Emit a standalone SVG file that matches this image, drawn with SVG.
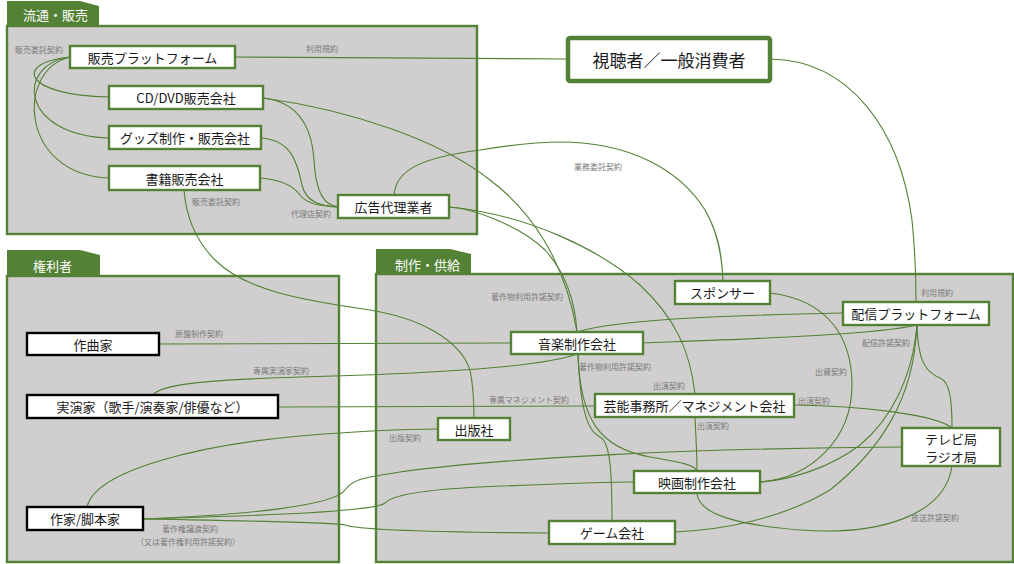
<svg xmlns="http://www.w3.org/2000/svg" width="1014" height="564" viewBox="0 0 1014 564">
<style>
.grp{fill:#d0cece;stroke:#538135;stroke-width:2.4}
.tab{fill:#538135}
.tabt{font-family:"Noto Sans CJK JP","Noto Sans",sans-serif;font-size:13px;fill:#ffffff}
.n rect{fill:#ffffff;stroke:#538135;stroke-width:2.4}
.k rect{fill:#ffffff;stroke:#000000;stroke-width:2.4}
.n text,.k text{font-family:"Noto Sans CJK JP","Noto Sans",sans-serif;font-size:13px;fill:#1a1a1a;text-anchor:middle;dominant-baseline:central}
#connectors path{fill:none;stroke:#538135;stroke-width:1.1}
.lbl{font-family:"Noto Sans CJK JP","Noto Sans",sans-serif;font-size:8px;fill:#7a7a7a;text-anchor:middle;dominant-baseline:central}
</style>
<rect x="0" y="0" width="1014" height="564" fill="#ffffff"/>
<g id="group-ryutsu">
<path class="tab" d="M7,1 H80 L99,6 V27 H7 Z"/>
<text class="tabt" x="23" y="20">流通・販売</text>
<rect class="grp" x="7" y="26" width="470" height="208"/>
</g>
<g id="group-kenrisha">
<path class="tab" d="M7,250 H80 L100,255 V277 H7 Z"/>
<text class="tabt" x="33" y="271">権利者</text>
<rect class="grp" x="7" y="276" width="332" height="286"/>
</g>
<g id="group-seisaku">
<path class="tab" d="M376,249 H450 L471,254 V275 H376 Z"/>
<text class="tabt" x="395" y="270">制作・供給</text>
<rect class="grp" x="376" y="274" width="637" height="288"/>
</g>
<g id="connectors">
<path d="M235,57 C350,57 450,59 568,59"/>
<path d="M70,57 C15,62 20,95 109,97"/>
<path d="M70,57 C15,65 20,135 109,138"/>
<path d="M70,57 C15,70 20,175 109,178"/>
<path d="M263,98 C300,102 312,130 314,160 C316,195 325,205 338,207"/>
<path d="M261,138 C290,140 297,160 302,185 C306,202 320,206 338,207"/>
<path d="M260,178 C285,180 295,188 300,195 C307,204 320,206 338,207"/>
<path d="M184,190 C186,215 195,240 215,260 C245,290 300,300 370,310 C420,318 460,340 470,370 C474,390 474,405 474,418"/>
<path d="M449,207 C470,208 520,225 545,250 C565,272 575,300 577,332"/>
<path d="M263,98 C350,110 440,140 490,180 C530,210 565,260 577,332"/>
<path d="M449,207 C530,215 600,250 640,285 C675,318 690,350 695,394"/>
<path d="M394,195 C396,170 420,158 480,150 C510,145 535,142 560,142 C630,142 680,170 705,210 C718,232 722,255 723,281"/>
<path d="M770,59 C850,60 900,130 912,220 C916,260 916,285 916,302"/>
<path d="M843,313 C750,315 620,318 577,332"/>
<path d="M916,325 C880,335 720,340 643,343"/>
<path d="M917,325 C912,380 890,420 860,445 C830,468 790,480 760,482"/>
<path d="M917,325 C914,400 880,450 830,490 C780,520 720,530 675,532"/>
<path d="M917,325 C918,360 925,372 940,378 C950,382 952,400 952,428"/>
<path d="M770,293 C830,300 852,340 852,385 C852,440 810,478 760,482"/>
<path d="M794,405 C860,406 935,414 952,428"/>
<path d="M695,417 C696,440 697,455 697,471"/>
<path d="M578,354 C580,420 600,448 650,457 C680,462 695,465 697,471"/>
<path d="M578,354 C580,400 585,430 600,437 C610,442 612,470 612,521"/>
<path d="M153,395 C160,385 200,380 300,377 C420,374 540,368 577,354"/>
<path d="M159,344 L511,343"/>
<path d="M278,407 L595,406"/>
<path d="M87,507 C95,470 200,445 300,436 C360,431 410,429 438,429"/>
<path d="M143,519 C250,515 335,505 345,490 C352,480 360,478 400,472 C500,458 700,448 902,447"/>
<path d="M143,519 C250,516 375,512 385,503 C392,495 420,490 480,487 C550,484 600,482 634,482"/>
<path d="M143,519 C250,521 335,522 345,525 C355,529 400,532 549,533"/>
<path d="M697,493 C698,515 740,525 800,530 C880,536 945,515 952,466"/>
</g>
<g id="node-hanbai-pf" class="n"><rect x="70" y="46" width="165" height="22"/><text x="152.5" y="57">販売プラットフォーム</text></g>
<g id="node-cddvd" class="n"><rect x="109" y="86" width="154" height="23"/><text x="186" y="97.5">CD/DVD販売会社</text></g>
<g id="node-goods" class="n"><rect x="109" y="126" width="152" height="23"/><text x="185" y="137.5">グッズ制作・販売会社</text></g>
<g id="node-shoseki" class="n"><rect x="109" y="166" width="151" height="24"/><text x="184.5" y="178">書籍販売会社</text></g>
<g id="node-koukoku" class="n"><rect x="338" y="195" width="111" height="23"/><text x="393.5" y="206.5">広告代理業者</text></g>
<g id="node-shichosha"><rect x="568" y="38" width="202" height="43" rx="2" fill="#ffffff" stroke="#538135" stroke-width="4.5"/><text x="669" y="59.5" font-family="'Noto Sans CJK JP','Noto Sans',sans-serif" font-size="17" fill="#1a1a1a" text-anchor="middle" dominant-baseline="central">視聴者／一般消費者</text></g>
<g id="node-sponsor" class="n"><rect x="675" y="281" width="95" height="23"/><text x="722.5" y="292.5">スポンサー</text></g>
<g id="node-haishin-pf" class="n"><rect x="843" y="302" width="146" height="23"/><text x="916" y="313.5">配信プラットフォーム</text></g>
<g id="node-ongaku" class="n"><rect x="511" y="332" width="132" height="22"/><text x="577" y="343">音楽制作会社</text></g>
<g id="node-geino" class="n"><rect x="595" y="394" width="199" height="23"/><text x="694.5" y="405.5">芸能事務所／マネジメント会社</text></g>
<g id="node-shuppan" class="n"><rect x="438" y="418" width="72" height="22"/><text x="474" y="429">出版社</text></g>
<g id="node-eiga" class="n"><rect x="634" y="471" width="126" height="22"/><text x="697" y="482">映画制作会社</text></g>
<g id="node-game" class="n"><rect x="549" y="521" width="126" height="23"/><text x="612" y="532.5">ゲーム会社</text></g>
<g id="node-tv" class="n"><rect x="902" y="428" width="98" height="38"/><text x="951" y="438" font-size="12.5">テレビ局</text><text x="951" y="456" font-size="12.5">ラジオ局</text></g>
<g id="node-sakkyoku" class="k"><rect x="27" y="333" width="132" height="22"/><text x="93" y="344">作曲家</text></g>
<g id="node-jitsuenka" class="k"><rect x="27" y="395" width="251" height="23"/><text x="152.5" y="406.5">実演家（歌手/演奏家/俳優など）</text></g>
<g id="node-sakka" class="k"><rect x="27" y="507" width="116" height="23"/><text x="85" y="518.5">作家/脚本家</text></g>
<g id="labels">
<text class="lbl" x="39" y="49">販売委託契約</text>
<text class="lbl" x="322" y="48">利用規約</text>
<text class="lbl" x="216" y="201">販売委託契約</text>
<text class="lbl" x="311" y="213">代理店契約</text>
<text class="lbl" x="598" y="166">業務委託契約</text>
<text class="lbl" x="937" y="292">利用規約</text>
<text class="lbl" x="886" y="342">配信許諾契約</text>
<text class="lbl" x="831" y="371">出資契約</text>
<text class="lbl" x="814" y="400">出演契約</text>
<text class="lbl" x="713" y="425">出演契約</text>
<text class="lbl" x="669" y="385">出演契約</text>
<text class="lbl" x="615" y="366">著作物利用許諾契約</text>
<text class="lbl" x="527" y="296">著作物利用許諾契約</text>
<text class="lbl" x="529" y="399">専属マネジメント契約</text>
<text class="lbl" x="405" y="437">出版契約</text>
<text class="lbl" x="935" y="517">放送許諾契約</text>
<text class="lbl" x="199" y="333">原盤制作契約</text>
<text class="lbl" x="281" y="370">専属実演家契約</text>
<text class="lbl" x="190" y="528">著作権譲渡契約</text>
<text class="lbl" x="188" y="541">（又は著作権利用許諾契約）</text>
</g>
</svg>
